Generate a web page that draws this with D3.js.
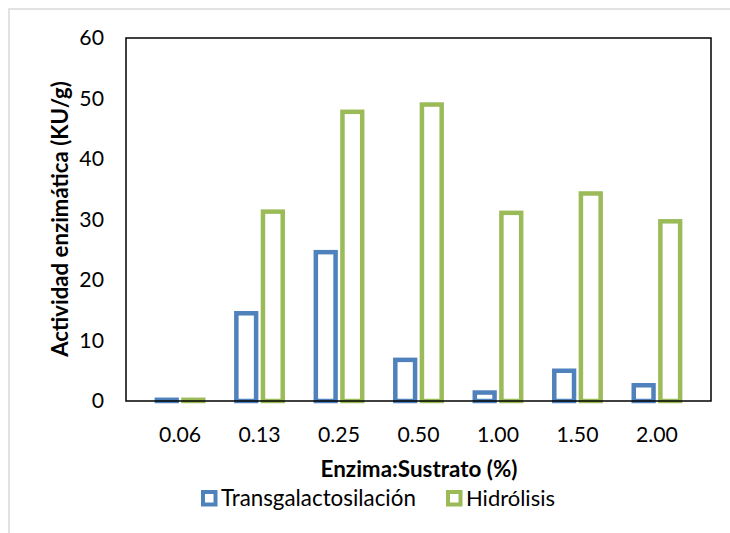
<!DOCTYPE html>
<html><head><meta charset="utf-8">
<script src="https://cdn.jsdelivr.net/npm/d3@7"></script>
<style>body{margin:0;background:#fff}svg{display:block}</style>
</head><body>
<script>
const categories = ["0.06","0.13","0.25","0.50","1.00","1.50","2.00"];
const seriesNames = ["Transgalactosilación","Hidrólisis"];
const transValues = [0.2,14.5,24.6,6.8,1.4,5.0,2.6];
const hidrValues = [0.2,31.3,47.8,49.0,31.1,34.3,29.7];
const yTicks = [0,10,20,30,40,50,60];
const colors = ["#4F81BD","#9BBB59"];

const W=730,H=533;
const m={l:126,r:711,t:38,b:401};
const svg=d3.select("body").append("svg").attr("width",W).attr("height",H);
const font="Lato, 'Open Sans', sans-serif";

function fit(sel, target){
  const fs=+sel.attr("font-size");
  const w=sel.node().getComputedTextLength();
  sel.attr("font-size", fs*target/w);
}

svg.append("rect").attr("x",9).attr("y",9).attr("width",760).attr("height",560)
  .attr("fill","none").attr("stroke","#d9d9d9").attr("stroke-width",1.5);

const x0=d3.scaleBand().domain(categories).range([m.l,m.r]).padding(0.36);
const x1=d3.scaleBand().domain(seriesNames).range([0,x0.bandwidth()]).paddingInner(0.089);
const y=d3.scaleLinear().domain([0,60]).range([m.b,m.t]);

const sw=4.5;
const data=categories.map((c,i)=>({c,vals:[transValues[i],hidrValues[i]]}));
const g=svg.append("g");
data.forEach(d=>{
  d.vals.forEach((v,j)=>{
    const s=seriesNames[j];
    g.append("rect")
      .attr("x",x0(d.c)+x1(s)+sw/2)
      .attr("width",x1.bandwidth()-sw)
      .attr("y",y(v))
      .attr("height",Math.max(0,y(0)-y(v)))
      .attr("fill","#fff").attr("stroke",colors[j]).attr("stroke-width",sw);
  });
});

svg.append("rect").attr("x",m.l).attr("y",m.t).attr("width",m.r-m.l).attr("height",m.b-m.t)
  .attr("fill","none").attr("stroke","#000").attr("stroke-width",1.5);

// measure tick font size from "2.00" target width
const probe=svg.append("text").attr("font-family",font).attr("font-size",20).text("2.00");
fit(probe,42);
const tickFs=+probe.attr("font-size");
probe.remove();

const ya=svg.append("g").attr("transform",`translate(${m.l},0)`)
  .call(d3.axisLeft(y).tickValues(yTicks).tickSize(0).tickPadding(22).tickFormat(d3.format("d")));
ya.select(".domain").remove();
ya.selectAll("text").attr("font-family",font).attr("font-size",tickFs).attr("fill","#000");

const xa=svg.append("g").attr("transform",`translate(0,${m.b})`)
  .call(d3.axisBottom(x0).tickSize(0).tickPadding(26));
xa.select(".domain").remove();
xa.selectAll("text").attr("font-family",font).attr("font-size",tickFs).attr("fill","#000");

const yt=svg.append("text").attr("transform","translate(68,219) rotate(-90)")
  .attr("text-anchor","middle").attr("font-family",font).attr("font-weight","bold")
  .attr("font-size",20).text("Actividad enzimática (KU/g)");
fit(yt,276);

const xt=svg.append("text").attr("x",419).attr("y",477).attr("text-anchor","middle")
  .attr("font-family",font).attr("font-weight","bold").attr("font-size",20)
  .text("Enzima:Sustrato (%)");
fit(xt,197);

const legX=[201,446];
const legW=[195,89];
seriesNames.forEach((s,j)=>{
  svg.append("rect").attr("x",legX[j]+2).attr("y",492).attr("width",12.5).attr("height",12.5)
    .attr("fill","#fff").attr("stroke",colors[j]).attr("stroke-width",4);
  const t=svg.append("text").attr("x",legX[j]+20).attr("y",506).attr("font-family",font)
    .attr("font-size",20).attr("fill","#000").text(s);
  fit(t,legW[j]);
});
</script>
</body></html>
